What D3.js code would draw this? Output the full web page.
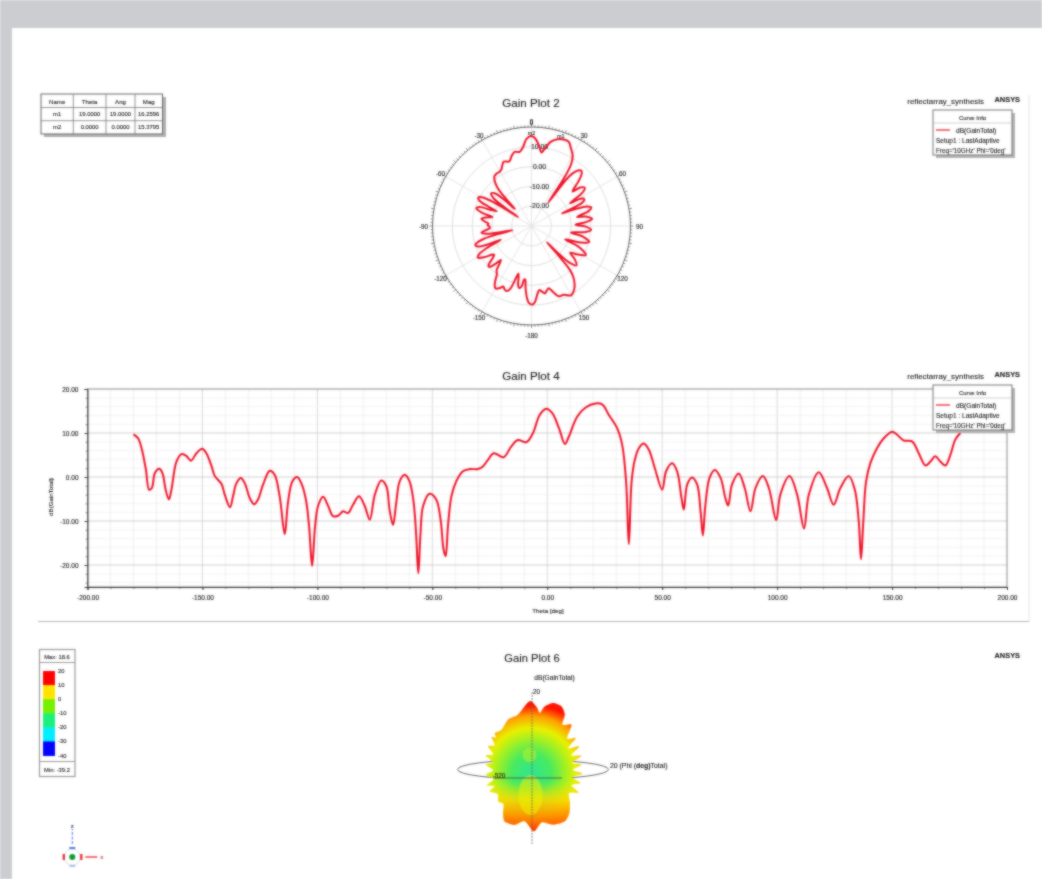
<!DOCTYPE html>
<html><head><meta charset="utf-8">
<script src="https://cdn.jsdelivr.net/npm/d3@7/dist/d3.min.js"></script>
<style>
html,body{margin:0;padding:0;background:#fff;overflow:hidden}
svg{display:block;font-family:"Liberation Sans",Arial,sans-serif;}
text{stroke:#000;stroke-width:.1px}
</style></head><body>
<svg id="root" width="1042" height="879"></svg>
<script>
// ---------- data ----------
const theta = [-180,-178,-176.5,-174.6,-173.2,-172,-170.7,-168.8,-167.4,-166,-164.6,-163.5,-161.3,-159.1,-157,-155,-152.6,-150.1,-148.3,-146,-144.6,-141.7,-140.3,-138,-136.7,-135.2,-133.3,-131.6,-129.4,-127.5,-125.8,-123.6,-120.7,-118.6,-116.4,-114.2,-112.8,-110.9,-108.8,-107,-105,-103.6,-102.3,-101,-99.7,-97.5,-95.3,-93.2,-91,-88.8,-86.7,-84.5,-81.9,-79.4,-77.2,-75,-72.2,-70,-68.6,-67.1,-65.7,-64.2,-62,-59.9,-58.1,-57,-56.1,-55.2,-54,-51.2,-48.3,-46.4,-45.1,-44.2,-43.2,-41.7,-39.6,-36.7,-33.8,-30.1,-28,-25.8,-23.3,-19,-15.7,-12.8,-9.1,-6.2,-3.3,-0.4,2.2,5.1,7.7,9.4,13,16.7,21,23.9,26.8,30.4,32.6,34.3,35.5,36.7,38.1,39.9,42,44.2,46.8,50,51.7,54.3,56.5,58.4,59.4,60.9,63,65.2,66.7,67.7,68.8,70.6,72.9,75.4,77.5,78.7,80.4,83.3,85.9,88.4,90.6,93.8,96.4,99.6,101.4,105.4,108.7,111.7,113.8,118.1,121.7,124.6,127.5,131.2,133.8,135.5,136.5,137.5,138.7,140.6,143.5,146.4,150,152.2,155.1,158.7,161.6,164.5,166.7,168.8,171,173.2,175.4,177.5,179.7];
const gain = [9.7,8.8,6.6,1.7,-2.9,-2.5,0.9,1.9,0.9,-2.9,-5.1,-2.9,3.5,5.2,4.8,3.7,5.4,6.4,5.4,2.4,0.2,-1.6,-4,-6.9,-4.4,-1.4,-0.2,-1.4,-4.8,-6.2,-5.1,-1.7,1.4,0.5,-4.4,-13,-5.9,-1,0,-1.4,-5.1,-11.2,-20.2,-11.2,-6.6,-4.5,-6.6,-8.9,-8.8,-7.8,-8.2,-6.3,-4.4,-6.6,-9.7,-4,-0.8,-2.1,-7.4,-10.9,-5.9,-1,0.5,-1,-5.9,-13.4,-21.9,-13.4,-6.6,-3.8,-5.1,-9.7,-16.5,-18,-11.2,-4.4,-1,1.3,1.8,1.8,2.4,3.9,5.4,4.5,6.9,8.4,7.9,10,14.1,15.5,14.5,11.1,7.5,9.2,13.7,15.8,16.7,16.5,14.1,11.1,7.3,-1,-15.3,-1,3.9,6.6,7.6,6.2,2,-2.9,1.3,3.1,1.3,-4.8,-7.4,-1.7,-0.1,-1.7,-7.8,-13.3,-6.3,-0.2,1.6,-0.2,-4.8,-6.5,-1.7,0.8,-2.5,-7.8,-2.5,0.2,-2.5,-9.8,-4,0.2,-4,-11.7,-4,1.1,-2.5,-6.3,-2.5,0.2,-2.9,-10,-18.7,-10,-1,3.2,6.6,8.8,10.3,9.6,8.3,8.1,5.4,2.6,3.5,4.7,3.5,2.6,5.1,8.5,10];

const xTicks = [-200,-150,-100,-50,0,50,100,150,200];
const yTicks = [20,10,0,-10,-20];
const polarRings = [-20,-10,0,10];
const polarSpokes = [-180,-150,-120,-90,-60,-30,0,30,60,90,120,150];

const markerNames = ["m1","m2"];
const markerTheta = ["19.0000","0.0000"];
const markerAng = ["19.0000","0.0000"];
const markerMag = ["16.2596","15.3795"];
const tableHead = ["Name","Theta","Ang","Mag"];

const legendLines = ["Setup1 : LastAdaptive","Freq='10GHz' Phi='0deg'"];
const barLabels = [20,10,0,-10,-20,-30,-40];
const barColors = ["#ff0000","#ffe400","#74f000","#1cf07c","#00eeff","#0000ff"];

// silhouette of the 3D gain pattern: view angle (deg, clockwise from +z) and gain (dB)
const lobeAngle = [0,5,7.9,11.3,17.2,24.2,29.7,32.7,39.6,46,51.7,56,60.8,66,70.9,75.7,80.5,85.6,90.7,96,101.5,107,112.5,118,128,136.7,145.4,157.2,168.5,177.7,187.9,197.9,208.9,215.3,222,229.6,238,246.3,250.5,254.5,261,267.9,274,280.3,285.5,290.8,296,301.6,307,312,315,317.5,325.3,336.4,347.1,356.5];
const lobeGain = [17.8,13.6,10.4,15.3,18.9,18.7,14.8,8.2,11.8,3,7.6,-0.5,6.4,-1,5.3,-2,3.8,-2.5,4,-2.7,3.3,-2.2,3.8,-1.6,2.4,6.7,9.1,7.3,3.6,8.9,2.4,6.2,6.9,2.7,-2.2,-0.9,-3.5,0.4,-4,0.9,-4.5,0.4,-4.4,0.9,-3.3,2.7,-1.6,4,0.7,5.8,3.3,6.2,5.1,8.9,10,16.7];
const gainStops = [-30,-17,-8,0,8,15];
const gainStopColors = ["#2ee690","#48ea60","#9af028","#e8f000","#ffa000","#ff1400"];

// ---------- helpers ----------
const root = d3.select("#root");
const blur = root.append("defs").append("filter").attr("id","soft")
  .attr("filterUnits","userSpaceOnUse").attr("x",0).attr("y",0).attr("width",1042).attr("height",879)
  .attr("color-interpolation-filters","sRGB");
blur.append("feGaussianBlur").attr("in","SourceGraphic").attr("stdDeviation",0.8).attr("result","b");
blur.append("feComposite").attr("in","SourceGraphic").attr("in2","b").attr("operator","arithmetic")
  .attr("k1",0).attr("k2",.35).attr("k3",.65).attr("k4",0);
const page = root.append("g").attr("filter","url(#soft)");
page.append("rect").attr("width",1042).attr("height",879).attr("fill","#cbcdd1");
page.append("rect").attr("x",12).attr("y",28).attr("width",1030).attr("height",851).attr("fill","#fff");
const svg = page.append("g").attr("id","art");
const TXT = "#222";
const RED = "#ee1026";
const rad = d => d*Math.PI/180;
const fmt = d => d3.format(".2f")(d).replace("\u2212","-");
function label(g,x,y,s,size,anchor="middle",extra={}) {
  const t = g.append("text").attr("x",x).attr("y",y).attr("font-size",size).attr("fill",TXT)
    .attr("text-anchor",anchor).attr("dominant-baseline","middle").text(s);
  Object.entries(extra).forEach(([k,v])=>t.attr(k,v));
  return t;
}
function curveInfo(g,x,y){
  const w=79,h=45;
  g.append("rect").attr("x",x+3).attr("y",y+3).attr("width",w).attr("height",h).attr("fill","#b4b4b4");
  g.append("rect").attr("x",x).attr("y",y).attr("width",w).attr("height",h).attr("fill","#fff").attr("stroke","#666").attr("stroke-width",.9);
  g.append("line").attr("x1",x).attr("x2",x+w).attr("y1",y+13).attr("y2",y+13).attr("stroke","#bbb").attr("stroke-width",.7);
  label(g,x+w/2,y+8,"Curve Info",5.9);
  g.append("line").attr("x1",x+3).attr("x2",x+17).attr("y1",y+20).attr("y2",y+20).attr("stroke",RED).attr("stroke-width",1.2);
  label(g,x+23,y+21,"dB(GainTotal)",6.6,"start");
  label(g,x+3,y+31,legendLines[0],6.5,"start");
  label(g,x+3,y+41,legendLines[1],6.3,"start");
}
function corner(g,y1,y2){
  label(g,984,y1,"reflectarray_synthesis",7.9,"end");
  label(g,1020,y2,"ANSYS",7.4,"end",{"font-weight":"bold"});
}

// ---------- polar plot ----------
(function(){
  const g = svg.append("g");
  const cx=531.5, cy=226;
  const r = d3.scaleLinear().domain([-30,20]).range([0,99]);
  label(g,531,103.5,"Gain Plot 2",11.6);
  corner(g,102,100);
  g.append("g").selectAll("circle").data(polarRings).join("circle")
    .attr("cx",cx).attr("cy",cy).attr("r",d=>r(d)).attr("fill","none").attr("stroke","#dadada").attr("stroke-width",.9);
  g.append("g").selectAll("line").data(polarSpokes).join("line")
    .attr("x1",cx).attr("y1",cy)
    .attr("x2",d=>cx+r(20)*Math.sin(rad(d))).attr("y2",d=>cy-r(20)*Math.cos(rad(d)))
    .attr("stroke","#e2e2e2").attr("stroke-width",.9);
  g.append("circle").attr("cx",cx).attr("cy",cy).attr("r",r(20)).attr("fill","none").attr("stroke","#555").attr("stroke-width",.9);
  g.append("g").selectAll("line").data(d3.range(-180,180,2)).join("line")
    .attr("x1",d=>cx+r(20)*Math.sin(rad(d))).attr("y1",d=>cy-r(20)*Math.cos(rad(d)))
    .attr("x2",d=>cx+(r(20)+(d%10===0?3:1.8))*Math.sin(rad(d))).attr("y2",d=>cy-(r(20)+(d%10===0?3:1.8))*Math.cos(rad(d)))
    .attr("stroke","#444").attr("stroke-width",.6);
  polarRings.forEach(d=>label(g,cx+8,cy-r(d)+0.5,fmt(d),6.8));
  polarSpokes.forEach(d=>{
    const R=r(20)+ (Math.abs(d)===180?10:6);
    label(g,cx+R*Math.sin(rad(d))+(d===-90?-3:d===90?3:0),cy-R*Math.cos(rad(d))+1,String(d),6.3);
  });
  const path = d3.lineRadial().angle(d=>rad(d[0])).radius(d=>r(d[1])).curve(d3.curveCatmullRom.alpha(.5));
  g.append("path").attr("transform",`translate(${cx},${cy})`).attr("d",path(d3.zip(theta,gain)))
    .attr("fill","none").attr("stroke",RED).attr("stroke-width",2).attr("stroke-linejoin","round");
  // markers
  label(g,cx,cy-r(20)-4,"0",6.3);
  label(g,cx,cy-r(16.5),"m2",5.4);
  label(g,cx+r(20)*Math.sin(rad(19))-3,cy-r(20)*Math.cos(rad(19))+4,"m1",5.4);
  // marker table
  const tx=41,ty=94,cols=[41,73.3,106,135,162.5],rows=[94,107.5,120.7,134];
  g.append("rect").attr("x",tx+3).attr("y",ty+3).attr("width",122).attr("height",40).attr("fill","#b0b0b0");
  g.append("rect").attr("x",tx).attr("y",ty).attr("width",121.5).attr("height",40).attr("fill","#fff").attr("stroke","#666").attr("stroke-width",1);
  cols.slice(1,-1).forEach(c=>g.append("line").attr("x1",c).attr("x2",c).attr("y1",ty).attr("y2",ty+40).attr("stroke","#777").attr("stroke-width",.8));
  rows.slice(1,-1).forEach(c=>g.append("line").attr("x1",tx).attr("x2",tx+121.5).attr("y1",c).attr("y2",c).attr("stroke","#777").attr("stroke-width",.8));
  const tcx=i=>(cols[i]+cols[i+1])/2;
  tableHead.forEach((s,i)=>label(g,tcx(i),102,s,6.1));
  markerNames.forEach((n,j)=>{
    const yy=(rows[j+1]+rows[j+2])/2+.5;
    [n,markerTheta[j],markerAng[j],markerMag[j]].forEach((s,i)=>label(g,tcx(i),yy,s,5.9));
  });
  curveInfo(g,933,110);
})();

// ---------- rectangular plot ----------
(function(){
  const g = svg.append("g");
  const x = d3.scaleLinear().domain([-200,200]).range([87.5,1007]);
  const y = d3.scaleLinear().domain([20,-25]).range([389,587]);
  label(g,531,377,"Gain Plot 4",11.6);
  corner(g,376.5,375);
  g.append("g").selectAll("line").data(d3.range(-190,200,10)).join("line")
    .attr("x1",d=>x(d)).attr("x2",d=>x(d)).attr("y1",y(20)).attr("y2",y(-25))
    .attr("stroke",d=>d%50===0?"#d8d8d8":"#eeeeee").attr("stroke-width",d=>d%50===0?1:.8);
  g.append("g").selectAll("line").data(d3.range(-24,20,2)).join("line")
    .attr("x1",x(-200)).attr("x2",x(200)).attr("y1",d=>y(d)).attr("y2",d=>y(d))
    .attr("stroke",d=>d%10===0?"#d0d0d0":"#f0f0f0").attr("stroke-width",d=>d%10===0?1:.8);
  g.append("rect").attr("x",x(-200)).attr("y",y(20)).attr("width",x(200)-x(-200)).attr("height",y(-25)-y(20))
    .attr("fill","none").attr("stroke","#888").attr("stroke-width",1);
  const ax = d3.axisBottom(x).tickValues(xTicks).tickSize(3).tickPadding(5).tickFormat(fmt);
  const gx = g.append("g").attr("transform",`translate(0,${y(-25)})`).call(ax);
  gx.select(".domain").attr("stroke","#333");
  gx.selectAll("line").attr("stroke","#333");
  gx.selectAll("text").attr("font-size",6.5).attr("fill",TXT).attr("font-family","inherit");
  const gxm = g.append("g").attr("transform",`translate(0,${y(-25)})`).call(d3.axisBottom(x).tickValues(d3.range(-190,200,10)).tickSize(2).tickFormat(""));
  gxm.select(".domain").remove(); gxm.selectAll("line").attr("stroke","#444").attr("stroke-width",.7);
  const ay = d3.axisLeft(y).tickValues(yTicks).tickSize(3).tickPadding(6).tickFormat(fmt);
  const gy = g.append("g").attr("transform",`translate(${x(-200)},0)`).call(ay);
  gy.select(".domain").attr("stroke","#333");
  gy.selectAll("line").attr("stroke","#333");
  gy.selectAll("text").attr("font-size",6.5).attr("fill",TXT).attr("font-family","inherit");
  const gym = g.append("g").attr("transform",`translate(${x(-200)},0)`).call(d3.axisLeft(y).tickValues(d3.range(-24,20,2)).tickSize(1.8).tickFormat(""));
  gym.select(".domain").remove(); gym.selectAll("line").attr("stroke","#444").attr("stroke-width",.7);
  label(g,548,611.5,"Theta [deg]",6.2);
  label(g,0,0,"dB(GainTotal)",6.2,"middle",{transform:"translate(51,497) rotate(-90)"});
  const line = d3.line().x(d=>x(d[0])).y(d=>y(d[1])).curve(d3.curveCatmullRom.alpha(.5));
  g.append("path").attr("d",line(d3.zip(theta,gain))).attr("fill","none").attr("stroke",RED).attr("stroke-width",2).attr("stroke-linejoin","round");
  curveInfo(g,933,385);
  g.append("line").attr("x1",38).attr("x2",1029).attr("y1",621.5).attr("y2",621.5).attr("stroke","#b4b4b4").attr("stroke-width",1);
  g.append("line").attr("x1",1029).attr("x2",1029).attr("y1",95).attr("y2",621.5).attr("stroke","#e2e2e2").attr("stroke-width",1);
})();

// ---------- 3D plot ----------
(function(){
  const g = svg.append("g");
  const cx=531.5, cy=773;
  const r = d3.scaleLinear().domain([-30,20]).range([0,75]);
  label(g,532,659,"Gain Plot 6",11.2);
  label(g,1020,656,"ANSYS",7.4,"end",{"font-weight":"bold"});
  label(g,554.5,678,"dB(GainTotal)",6.6);
  const defs=g.append("defs");
  const gr=defs.append("radialGradient").attr("id","gainGrad").attr("gradientUnits","userSpaceOnUse")
    .attr("cx",0).attr("cy",0).attr("r",r(20));
  gainStops.forEach((v,i)=>gr.append("stop").attr("offset",r(v)/r(20)).attr("stop-color",gainStopColors[i]));
  const lg=defs.append("linearGradient").attr("id","lowHot").attr("x1",0).attr("x2",0).attr("y1",0).attr("y2",1);
  lg.append("stop").attr("offset",.62).attr("stop-color","#f8e800").attr("stop-opacity",0);
  lg.append("stop").attr("offset",.76).attr("stop-color","#fbd400").attr("stop-opacity",.8);
  lg.append("stop").attr("offset",.93).attr("stop-color","#ff6a00").attr("stop-opacity",.9);
  lg.append("stop").attr("offset",1).attr("stop-color","#ff3000").attr("stop-opacity",1);
  const lobe = d3.lineRadial().angle(d=>rad(d[0])).radius(d=>r(d[1])).curve(d3.curveCardinalClosed.tension(.25));
  const d = lobe(d3.zip(lobeAngle,lobeGain));
  defs.append("clipPath").attr("id","lobeClip").append("path").attr("transform",`translate(${cx},${cy})`).attr("d",d);
  g.append("ellipse").attr("cx",533).attr("cy",769.5).attr("rx",75.5).attr("ry",9.5).attr("fill","none").attr("stroke","#555").attr("stroke-width",.9);
  g.append("path").attr("transform",`translate(${cx},${cy})`).attr("d",d).attr("fill","url(#gainGrad)");
  g.append("path").attr("transform",`translate(${cx},${cy})`).attr("d",d).attr("fill","url(#lowHot)");
  const c=g.append("g").attr("clip-path","url(#lobeClip)");
  c.append("ellipse").attr("cx",cx-1).attr("cy",cy+22).attr("rx",12).attr("ry",20).attr("fill","#f0f000").attr("opacity",.55);
  c.append("ellipse").attr("cx",cx-2).attr("cy",cy-18).attr("rx",7).attr("ry",7).attr("fill","#c0f020").attr("opacity",.55);
  g.append("line").attr("x1",cx+.5).attr("x2",cx+.5).attr("y1",692).attr("y2",845).attr("stroke","#666").attr("stroke-width",.8).attr("stroke-dasharray","2 1");
  g.append("line").attr("x1",493).attr("x2",562).attr("y1",778).attr("y2",778).attr("stroke","#445").attr("stroke-width",.8);
  label(g,536.5,692,"20",6.4);
  label(g,499,776,"-520",6.4);
  const side=label(g,610,765.5,"",6.9,"start");
  side.append("tspan").text("20 (Phi (");
  side.append("tspan").attr("font-weight","bold").text("deg)");
  side.append("tspan").text("Total)");
  // colour bar
  const bar=g.append("g");
  bar.append("rect").attr("x",39.5).attr("y",649.5).attr("width",35.5).attr("height",127).attr("fill","#fff").attr("stroke","#999").attr("stroke-width",1.2);
  bar.append("line").attr("x1",39.5).attr("x2",75).attr("y1",662.5).attr("y2",662.5).attr("stroke","#999");
  bar.append("line").attr("x1",39.5).attr("x2",75).attr("y1",761.5).attr("y2",761.5).attr("stroke","#999");
  label(bar,57,657,"Max: 18.6",5.8);
  label(bar,57,770,"Min: -39.2",5.8);
  const by=d3.scaleBand().domain(barColors).range([671,755.5]);
  bar.selectAll(".sw").data(barColors).join("rect").attr("class","sw").attr("x",43).attr("width",12)
    .attr("y",d=>by(d)).attr("height",by.bandwidth()+.5).attr("fill",d=>d);
  barLabels.forEach((v,i)=>label(bar,58,671+i*by.bandwidth()+.5,String(v),5.8,"start"));
  // triad
  const t=g.append("g"), tx=72.3, ty=857;
  t.append("circle").attr("cx",tx).attr("cy",ty).attr("r",8).attr("fill","none").attr("stroke","#99a").attr("stroke-width",.6).attr("stroke-dasharray","1.5 1");
  t.append("circle").attr("cx",tx).attr("cy",ty).attr("r",3).attr("fill","#0a9a2e");
  t.append("line").attr("x1",tx-8.5).attr("x2",tx-8.5).attr("y1",ty-3).attr("y2",ty+3).attr("stroke","#e8202a").attr("stroke-width",2.2);
  t.append("line").attr("x1",tx+9).attr("x2",tx+9).attr("y1",ty-3).attr("y2",ty+3).attr("stroke","#e8202a").attr("stroke-width",2.2);
  t.append("line").attr("x1",tx-3).attr("x2",tx+3).attr("y1",ty-9).attr("y2",ty-9).attr("stroke","#3a6ae8").attr("stroke-width",1.8);
  t.append("line").attr("x1",tx-3).attr("x2",tx+3).attr("y1",ty+9).attr("y2",ty+9).attr("stroke","#8aa8f0").attr("stroke-width",1.4);
  t.append("line").attr("x1",tx+13).attr("x2",tx+25).attr("y1",ty).attr("y2",ty).attr("stroke","#e8202a").attr("stroke-width",1.3);
  t.append("line").attr("x1",tx).attr("x2",tx).attr("y1",ty-13).attr("y2",ty-28).attr("stroke","#5a80e8").attr("stroke-width",1.1).attr("stroke-dasharray","3 1.5");
  label(t,tx+29.5,ty+.5,"x",6,"middle",{fill:"#d02030",stroke:"#d02030"});
  label(t,tx,ty-31,"z",6,"middle",{fill:"#3050d0",stroke:"#3050d0"});
})();
</script>
</body></html>
